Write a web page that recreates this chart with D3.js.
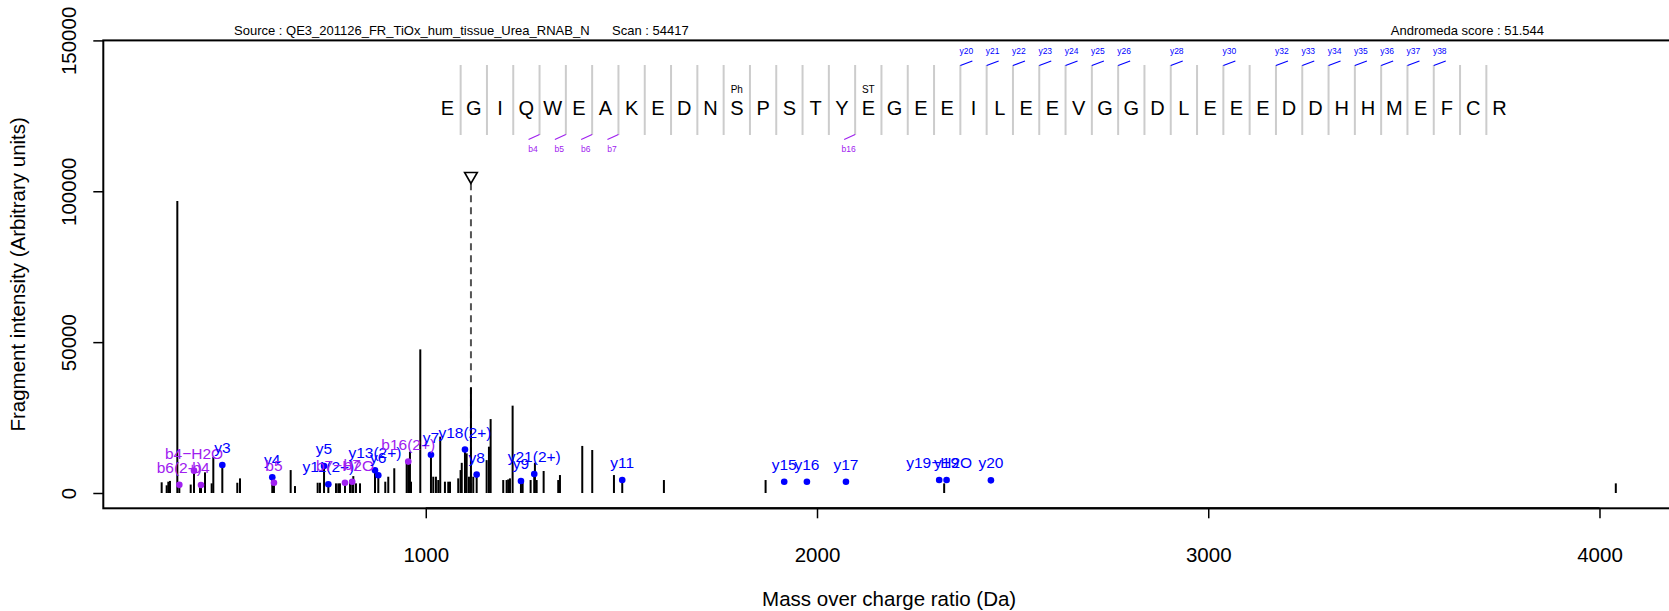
<!DOCTYPE html>
<html>
<head>
<meta charset="utf-8">
<script src="https://cdn.jsdelivr.net/npm/d3@7"></script>
<style>
  body { margin: 0; background: #fff; }
  svg { display: block; font-family: "Liberation Sans", Arial, Helvetica, sans-serif; }
</style>
</head>
<body>
<svg id="chart" width="1669" height="611"></svg>
<script>
// Annotated MS/MS spectrum: peaks, matched fragment ions, peptide sequence map.

const peakMz = [325, 337.8, 342, 346.3, 365, 370.1, 399.2, 407.6, 423, 425.5, 435.7, 452.8, 457, 480,
  518.3, 525.2, 607.7, 612, 654.7, 665.7, 723.7, 729.6, 740, 751, 770.5, 776.4, 780.7, 793.5, 806.3,
  812, 814.8, 821.6, 831.9, 870.2, 878.7, 896.5, 904.2, 919.5, 951.2, 955.3, 959.6, 962.2, 986,
  1013.3, 1019.2, 1026, 1032, 1037, 1049, 1057.5, 1062, 1083, 1089, 1092, 1100.2, 1104.5, 1110.4,
  1115.5, 1121.4, 1130.1, 1155.6, 1161.5, 1165.8, 1198, 1206.7, 1210.8, 1215.2, 1222, 1243.3, 1247.6,
  1268, 1277.3, 1279, 1283.4, 1301.3, 1338.6, 1343, 1400, 1425.5, 1481, 1502.2, 1608.7, 1868.6,
  2325, 4041.7];
const peakIntensity = [3550, 2550, 3750, 4000, 96800, 2700, 2800, 7400, 3400, 2650, 6850, 3200, 12000, 9300,
  3400, 4850, 5200, 3400, 7600, 2300, 3400, 3400, 8950, 2900, 3200, 3200, 3200, 3400, 4300,
  3750, 5600, 3200, 3200, 7500, 5900, 3750, 5400, 8200, 10900, 10400, 13700, 3750, 47600,
  12700, 5400, 5400, 4300, 18700, 3750, 3750, 3750, 4850, 7600, 10000, 14400, 13150, 5400,
  35000, 5400, 6100, 10900, 15350, 24500, 4300, 4300, 4500, 4850, 28950, 4000, 3750,
  4300, 6300, 10050, 4300, 7300, 4300, 5950, 15600, 14250, 5950, 4300, 4300, 4300,
  3200, 3200];

const ionLabels = ["b6(2+)", "b4\u2212H2O", "b4", "y3", "y4", "b5", "y5", "y11(2+)", "b7\u2212H2O", "b7",
  "y13(2+)", "y6", "b16(2+)", "y7", "y18(2+)", "y8", "y9", "y21(2+)", "y11", "y15", "y16", "y17",
  "y19\u2212H2O", "y19", "y20"];
const ionMz = [370.1, 407.6, 425.5, 480, 607.7, 612, 740, 751, 793.5, 812,
  870.2, 878.7, 955.3, 1013.3, 1100.2, 1130.1, 1243.3, 1277.3, 1502.2, 1916.2, 1974.2, 2074,
  2312.3, 2331.2, 2444.5];
const ionIntensity = [2700, 7400, 2650, 9300, 5200, 3400, 8950, 2900, 3400, 3750,
  7500, 5900, 10400, 12700, 14400, 6100, 4000, 6300, 4300, 3750, 3750, 3750,
  4300, 4300, 4200];
const ionSeries = ["b", "b", "b", "y", "y", "b", "y", "y", "b", "b",
  "y", "y", "b", "y", "y", "y", "y", "y", "y", "y", "y", "y",
  "y", "y", "y"];

const sequence = "EGIQWEAKEDNSPSTYEGEEILEEVGGDLEEEDDHHMEFCR".split("");
const modSites = [11, 16];
const modLabels = ["Ph", "ST"];
const yFragments = [20, 21, 22, 23, 24, 25, 26, 28, 30, 32, 33, 34, 35, 36, 37, 38];
const bFragments = [4, 5, 6, 7, 16];

const precursorMz = 1115.5;
const precursorMark = 105000;

const xTicks = [1000, 2000, 3000, 4000];
const yTicks = [0, 50000, 100000, 150000];

const sourceText = "Source : QE3_201126_FR_TiOx_hum_tissue_Urea_RNAB_N";
const scanText = "Scan : 54417";
const scoreText = "Andromeda score : 51.544";

const colors = { b: "#A020F0", y: "#0000FF" };

const svg = d3.select("#chart");
const plot = { left: 103.3, right: 1675, top: 40.4, bottom: 508.3 };

const x = d3.scaleLinear().domain([175.8, 4193]).range([plot.left, plot.right]);
const y = d3.scaleLinear().domain([-5070, 150000]).range([plot.bottom, plot.top]);

// header texts
svg.append("text").attr("x", 234).attr("y", 35).attr("font-size", 13).text(sourceText);
svg.append("text").attr("x", 612).attr("y", 35).attr("font-size", 13).text(scanText);
svg.append("text").attr("x", 1544).attr("y", 35).attr("font-size", 13)
  .attr("text-anchor", "end").text(scoreText);

// axes
const yAxis = svg.append("g")
  .attr("transform", `translate(${plot.left},0)`)
  .call(d3.axisLeft(y).tickValues(yTicks).tickSize(10).tickFormat(d3.format("d")));
yAxis.select(".domain").remove();
yAxis.selectAll(".tick line").attr("stroke-width", 1.5);
yAxis.selectAll(".tick text")
  .attr("x", null).attr("dy", null)
  .attr("transform", "translate(-27,0) rotate(-90)")
  .attr("text-anchor", "middle")
  .attr("font-size", 20.5).attr("fill", "#000");
yAxis.attr("font-family", null);

const xAxis = svg.append("g")
  .attr("transform", `translate(0,${plot.bottom})`)
  .call(d3.axisBottom(x).tickValues(xTicks).tickSize(10).tickSizeOuter(0).tickFormat(d3.format("d")));
xAxis.select(".domain").remove();
xAxis.selectAll(".tick line").attr("stroke-width", 1.5);
xAxis.selectAll(".tick text")
  .attr("y", 54).attr("dy", null)
  .attr("font-size", 20.5).attr("fill", "#000");
xAxis.attr("font-family", null);
xAxis.append("line")
  .attr("x1", x(xTicks[0])).attr("x2", x(xTicks[xTicks.length - 1]))
  .attr("stroke", "#000").attr("stroke-width", 2);

svg.append("rect")
  .attr("x", plot.left).attr("y", plot.top)
  .attr("width", plot.right - plot.left).attr("height", plot.bottom - plot.top)
  .attr("fill", "none").attr("stroke", "#000").attr("stroke-width", 2);

svg.append("text")
  .attr("transform", `translate(25,${(plot.top + plot.bottom) / 2}) rotate(-90)`)
  .attr("text-anchor", "middle").attr("font-size", 20.5)
  .text("Fragment intensity (Arbitrary units)");
svg.append("text")
  .attr("x", (plot.left + plot.right) / 2).attr("y", 606)
  .attr("text-anchor", "middle").attr("font-size", 20.5)
  .text("Mass over charge ratio (Da)");

// precursor marker
svg.append("line")
  .attr("x1", x(precursorMz)).attr("x2", x(precursorMz))
  .attr("y1", y(precursorMark) + 7).attr("y2", y(0))
  .attr("stroke", "#555").attr("stroke-width", 2).attr("stroke-dasharray", "7,5");
svg.append("path")
  .attr("d", d3.symbol().type(d3.symbolTriangle).size(70)())
  .attr("transform", `translate(${x(precursorMz)},${y(precursorMark)}) rotate(180)`)
  .attr("fill", "none").attr("stroke", "#000").attr("stroke-width", 1.6);

// peaks
svg.append("g").selectAll("line")
  .data(d3.zip(peakMz, peakIntensity))
  .join("line")
  .attr("x1", d => x(d[0])).attr("x2", d => x(d[0]))
  .attr("y1", y(0)).attr("y2", d => y(d[1]))
  .attr("stroke", "#000").attr("stroke-width", 2);

// matched ions
const ions = ionLabels.map((l, i) => ({ label: l, mz: ionMz[i], inten: ionIntensity[i], s: ionSeries[i] }));
svg.append("g").selectAll("circle")
  .data(ions)
  .join("circle")
  .attr("cx", d => x(d.mz)).attr("cy", d => y(d.inten))
  .attr("r", 3.3).attr("fill", d => colors[d.s]);
svg.append("g").selectAll("text")
  .data(ions)
  .join("text")
  .attr("x", d => x(d.mz)).attr("y", d => y(d.inten) - 12)
  .attr("text-anchor", "middle").attr("font-size", 15.5)
  .attr("fill", d => colors[d.s])
  .text(d => d.label);

// sequence map
const pos = d3.scalePoint().domain(d3.range(sequence.length)).range([447.5, 1499.5]);
const sep = i => (pos(i) + pos(i + 1)) / 2;

svg.append("g").selectAll("line")
  .data(d3.range(sequence.length - 1))
  .join("line")
  .attr("x1", sep).attr("x2", sep)
  .attr("y1", 65).attr("y2", 135)
  .attr("stroke", "#cccccc").attr("stroke-width", 2);

svg.append("g").selectAll("text")
  .data(sequence)
  .join("text")
  .attr("x", (d, i) => pos(i)).attr("y", 114.5)
  .attr("text-anchor", "middle").attr("font-size", 20)
  .text(d => d);

svg.append("g").selectAll("text")
  .data(modSites)
  .join("text")
  .attr("x", d => pos(d)).attr("y", 93.3)
  .attr("text-anchor", "middle").attr("font-size", 10)
  .text((d, i) => modLabels[i]);

const yMarks = svg.append("g");
yMarks.selectAll("line")
  .data(yFragments)
  .join("line")
  .attr("x1", n => sep(n - 1)).attr("x2", n => sep(n - 1) + 12)
  .attr("y1", 65.5).attr("y2", 61)
  .attr("stroke", colors.y).attr("stroke-width", 1.2);
yMarks.selectAll("text")
  .data(yFragments)
  .join("text")
  .attr("x", n => sep(n - 1) + 6).attr("y", 53.5)
  .attr("text-anchor", "middle").attr("font-size", 8.5)
  .attr("fill", colors.y)
  .text(n => "y" + n);

const bMarks = svg.append("g");
bMarks.selectAll("line")
  .data(bFragments)
  .join("line")
  .attr("x1", n => sep(n - 1)).attr("x2", n => sep(n - 1) - 11)
  .attr("y1", 134.5).attr("y2", 139.5)
  .attr("stroke", colors.b).attr("stroke-width", 1.2);
bMarks.selectAll("text")
  .data(bFragments)
  .join("text")
  .attr("x", n => sep(n - 1) - 6.5).attr("y", 152.3)
  .attr("text-anchor", "middle").attr("font-size", 8.5)
  .attr("fill", colors.b)
  .text(n => "b" + n);
</script>
</body>
</html>
